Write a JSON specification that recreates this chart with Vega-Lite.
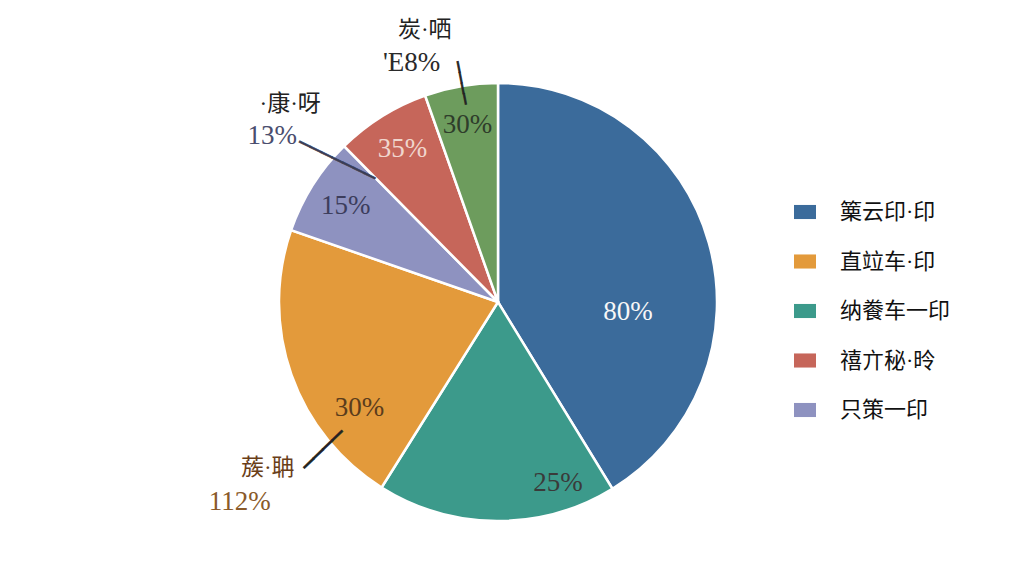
{
  "$schema": "https://vega.github.io/schema/vega-lite/v6.json",
  "width": 996,
  "height": 576,
  "autosize": "none",
  "padding": {"left": 0, "top": 14, "right": 28, "bottom": 0},
  "background": "white",
  "config": {"view": {"stroke": null}, "font": "Liberation Serif"},
  "data": {
    "values": [
      {"cat": "篥云印·印", "value": 41.25, "seq": 1, "label": "80%", "note1": "", "note2": ""},
      {"cat": "纳餋车一印", "value": 17.67, "seq": 2, "label": "25%", "note1": "", "note2": ""},
      {"cat": "直竝车·印", "value": 21.4, "seq": 3, "label": "30%", "note1": "蔟·聃", "note2": "112%"},
      {"cat": "只策一印", "value": 7.28, "seq": 4, "label": "15%", "note1": "·康·呀", "note2": "13%"},
      {"cat": "禧亣秘·昤", "value": 7.0, "seq": 5, "label": "35%", "note1": "", "note2": ""},
      {"cat": "其他", "value": 5.4, "seq": 6, "label": "30%", "note1": "炭·哂", "note2": "'E8%"}
    ]
  },
  "encoding": {
    "theta": {"field": "value", "type": "quantitative", "stack": true},
    "order": {"field": "seq", "type": "quantitative"}
  },
  "layer": [
    {
      "mark": {"type": "arc", "outerRadius": 219, "stroke": "white", "strokeWidth": 2.5},
      "encoding": {
        "color": {
          "field": "cat",
          "type": "nominal",
          "scale": {
            "domain": ["篥云印·印", "直竝车·印", "纳餋车一印", "禧亣秘·昤", "只策一印", "其他"],
            "range": ["#3b6b9b", "#e39a3b", "#3c9a8b", "#c6665a", "#8e92c0", "#6d9c5d"]
          },
          "legend": {
            "orient": "none",
            "legendX": 794,
            "legendY": 187,
            "title": null,
            "values": ["篥云印·印", "直竝车·印", "纳餋车一印", "禧亣秘·昤", "只策一印"],
            "symbolType": "M-1,-0.64H1V0.64H-1Z",
            "symbolSize": 484,
            "symbolStrokeWidth": 0,
            "symbolOpacity": 1,
            "labelFont": "Liberation Serif, Noto Sans CJK SC",
            "labelFontSize": 22,
            "labelColor": "#111111",
            "labelOffset": 24,
            "rowPadding": 27.5,
            "padding": 0
          }
        }
      }
    },
    {
      "mark": {"type": "text", "radius": 222, "angle": 79, "align": "center", "baseline": "middle", "fontSize": 18, "font": "DejaVu Sans Mono", "color": "#222222", "stroke": "#222222", "strokeWidth": 0.7},
      "encoding": {"text": {"condition": {"test": "datum.seq === 6", "value": "────"}, "value": ""}}
    },
    {
      "mark": {"type": "text", "radius": 214, "angle": 26, "dx": 6, "dy": -33, "align": "center", "baseline": "middle", "fontSize": 20, "font": "DejaVu Sans Mono", "color": "#3a3d55", "stroke": "#3a3d55", "strokeWidth": 0.6},
      "encoding": {"text": {"condition": {"test": "datum.seq === 4", "value": "───────"}, "value": ""}}
    },
    {
      "mark": {"type": "text", "radius": 228, "angle": -44, "dx": -21, "dy": 80, "align": "center", "baseline": "middle", "fontSize": 22, "font": "DejaVu Sans Mono", "color": "#222222", "stroke": "#222222", "strokeWidth": 0.7},
      "encoding": {"text": {"condition": {"test": "datum.seq === 3", "value": "────"}, "value": ""}}
    },
    {
      "mark": {"type": "text", "radius": 131, "dx": 4, "dy": 46, "fontSize": 27, "font": "Liberation Serif", "color": "#f7f7f7"},
      "encoding": {"text": {"condition": {"test": "datum.seq === 1", "field": "label"}, "value": ""}}
    },
    {
      "mark": {"type": "text", "radius": 185, "dx": 61, "dy": -4, "fontSize": 27, "font": "Liberation Serif", "color": "#3a3a3a"},
      "encoding": {"text": {"condition": {"test": "datum.seq === 2", "field": "label"}, "value": ""}}
    },
    {
      "mark": {"type": "text", "radius": 170, "dx": 22, "dy": 50, "fontSize": 27, "font": "Liberation Serif", "color": "#5a3c1c"},
      "encoding": {"text": {"condition": {"test": "datum.seq === 3", "field": "label"}, "value": ""}}
    },
    {
      "mark": {"type": "text", "radius": 180, "fontSize": 27, "font": "Liberation Serif"},
      "encoding": {
        "text": {"condition": {"test": "datum.seq >= 4", "field": "label"}, "value": ""},
        "color": {"condition": [{"test": "datum.seq === 4", "value": "#3c3d5c"}, {"test": "datum.seq === 5", "value": "#f0d6ce"}], "value": "#2f3d2b"}
      }
    },
    {
      "mark": {"type": "text", "radius": 280, "dx": -26, "dy": 4, "fontSize": 23, "font": "Liberation Serif, Noto Sans CJK SC", "color": "#222222"},
      "encoding": {"text": {"condition": {"test": "datum.seq === 6", "field": "note1"}, "value": ""}}
    },
    {
      "mark": {"type": "text", "radius": 245, "dx": -45, "dy": 2, "fontSize": 27, "font": "Liberation Serif", "color": "#2a2a2a"},
      "encoding": {"text": {"condition": {"test": "datum.seq === 6", "field": "note2"}, "value": ""}}
    },
    {
      "mark": {"type": "text", "radius": 280, "dx": 29, "dy": -49, "fontSize": 23, "font": "Liberation Serif, Noto Sans CJK SC", "color": "#222222"},
      "encoding": {"text": {"condition": {"test": "datum.seq === 4", "field": "note1"}, "value": ""}}
    },
    {
      "mark": {"type": "text", "radius": 260, "dx": -6, "dy": -27, "fontSize": 27, "font": "Liberation Serif", "color": "#4a4e6e"},
      "encoding": {"text": {"condition": {"test": "datum.seq === 4", "field": "note2"}, "value": ""}}
    },
    {
      "mark": {"type": "text", "radius": 260, "dx": 15, "dy": 80, "fontSize": 23, "font": "Liberation Serif, Noto Sans CJK SC", "color": "#6a3e18"},
      "encoding": {"text": {"condition": {"test": "datum.seq === 3", "field": "note1"}, "value": ""}}
    },
    {
      "mark": {"type": "text", "radius": 260, "dx": -13, "dy": 114, "fontSize": 27, "font": "Liberation Serif", "color": "#8a5a2a"},
      "encoding": {"text": {"condition": {"test": "datum.seq === 3", "field": "note2"}, "value": ""}}
    }
  ]
}
